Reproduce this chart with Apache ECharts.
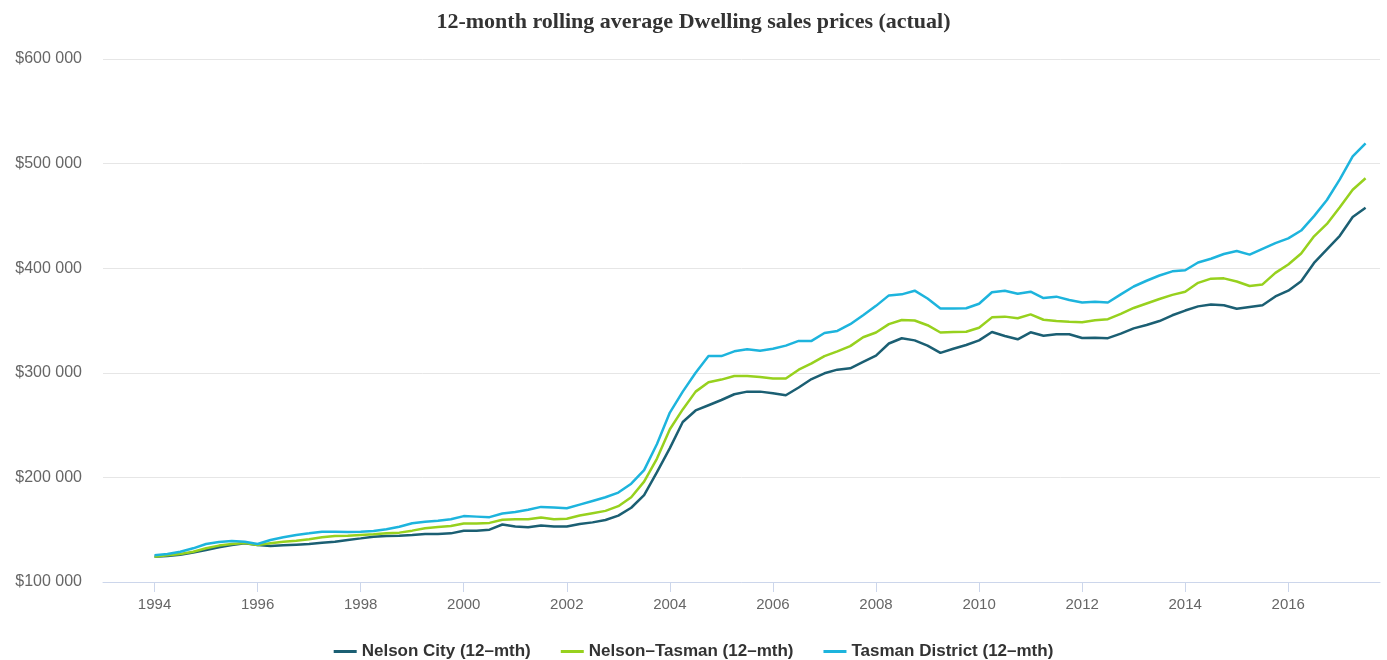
<!DOCTYPE html>
<html>
<head>
<meta charset="utf-8">
<script src="https://cdn.jsdelivr.net/npm/echarts@6/dist/echarts.min.js"></script>
<style>
  html, body { margin: 0; padding: 0; background: #fff; }
  #chart { width: 1387px; height: 660px; }
</style>
</head>
<body>
<div id="chart"></div>
<script>
// quarterly 12-month rolling averages, in $ thousands, 1994 Q1 .. 2017 Q3
var nelsonCity = [
  124.2, 124.8, 126.1, 128.1,
  130.6, 133.2, 135.4, 137,
  135.4, 134.4, 135.1, 135.7,
  136.3, 137.6, 138.5, 140.2,
  141.7, 143.3, 144, 144.3,
  145, 145.9, 145.9, 146.5,
  149, 149, 150, 155,
  153, 152.3, 154, 153,
  153, 155.5, 157, 159.3,
  163.5, 171, 183, 205,
  228, 253, 264, 269,
  274, 279.5, 282, 282,
  280.5, 278.5, 286, 294,
  299.5, 303, 304.3, 310.5,
  316.5, 328, 333, 331,
  326, 319, 323, 326.6,
  331, 339, 335.2, 332,
  338.7, 335.5, 336.8, 336.8,
  333.2, 333.6, 333.1, 337.5,
  342.5, 345.7, 349.5, 355,
  359.5, 363.5, 365.3, 364.5,
  361.3, 363, 364.6, 373,
  378.5, 387.5, 405, 418,
  431, 449, 457.8
];
var nelsonTasman = [
  124.2, 125.5, 126.8, 129,
  132.2, 134.8, 136.3, 137.3,
  135.4, 137, 138.5, 139.5,
  140.8, 142.7, 144, 144.3,
  145, 145.6, 146.6, 147.2,
  149.1, 151.3, 152.5, 153.5,
  156, 156, 156.5, 159.5,
  160, 160, 161.6, 160,
  160.5, 163.5, 165.8, 168,
  172.5, 181, 196, 218,
  246, 265, 282, 291,
  293.5, 297, 297, 296,
  294.5, 294.5, 303, 309,
  316, 320.5, 325.5, 334,
  338.5, 346.5, 350.5, 350,
  345.5, 338.5, 339, 339.3,
  343, 353, 353.7, 352.2,
  355.9, 350.7, 349.5, 348.9,
  348.4, 350.2, 351.3, 356.4,
  362, 366.3, 370.5, 374.5,
  377.5, 386, 390, 390.3,
  387.3, 383, 384.5, 395.5,
  403.5, 414, 430.5, 442.3,
  458.2, 475, 486
];
var tasmanDistrict = [
  125.5, 126.8, 129, 132.2,
  136.3, 138.2, 139.2, 138.5,
  136.3, 140.2, 142.7, 145,
  146.5, 148.1, 148.1, 147.8,
  148.1, 148.8, 150.4, 152.9,
  156.1, 157.6, 158.5, 160,
  163, 162.5, 162, 165.5,
  167, 169, 171.8, 171.3,
  170.5, 174, 177.5, 181,
  185.5, 194, 207, 232,
  262, 282, 300, 316,
  316, 320.5, 322.5, 321,
  323, 326, 330.5, 330.5,
  338, 340, 346.5, 355,
  364, 374, 375, 378.5,
  371, 361.5, 361.5, 361.7,
  366, 377, 378.5, 375.5,
  377.5, 371.5, 372.8, 369.6,
  367.2, 368, 367.2, 375,
  382.5, 388, 393, 397,
  398, 405.5, 409, 413.6,
  416.5, 413, 418.5, 424,
  428.5, 436, 449.8, 465.2,
  485, 507, 519.4
];
var yearTicks = [1994, 1996, 1998, 2000, 2002, 2004, 2006, 2008, 2010, 2012, 2014, 2016];
var seriesNames = ['Nelson City (12–mth)', 'Nelson–Tasman (12–mth)', 'Tasman District (12–mth)'];
var colors = ['#1b5f73', '#97d11e', '#1db4dd'];

function pairs(values) {
  // each value is a quarter, starting 1994 Q1
  return values.map(function (v, i) { return [1994 + i / 4, v]; });
}

var chart = echarts.init(document.getElementById('chart'));
var data = [nelsonCity, nelsonTasman, tasmanDistrict];

chart.setOption({
  animation: false,
  color: colors,
  title: {
    text: '12-month rolling average Dwelling sales prices (actual)',
    left: 'center',
    top: 6,
    textStyle: { fontFamily: 'Liberation Serif', fontWeight: 'bold', fontSize: 22, color: '#333' }
  },
  legend: {
    top: 638,
    left: 'center',
    itemWidth: 23,
    itemHeight: 3,
    itemGap: 30,
    icon: 'rect',
    textStyle: { fontFamily: 'Liberation Sans', fontWeight: 'bold', fontSize: 17, color: '#333' },
    data: seriesNames
  },
  grid: { left: 103, right: 7, top: 59, bottom: 78 },
  xAxis: {
    type: 'value',
    min: 1993,
    max: 2017.78,
    axisLine: { lineStyle: { color: '#ccd6eb', width: 1 } },
    axisTick: { show: true, length: 10, lineStyle: { color: '#ccd6eb' }, customValues: yearTicks },
    axisLabel: {
      customValues: yearTicks,
      color: '#666', fontFamily: 'Liberation Sans', fontSize: 15, margin: 15,
      formatter: function (v) { return String(v); }
    },
    splitLine: { show: false }
  },
  yAxis: {
    type: 'value',
    min: 100,
    max: 600,
    interval: 100,
    axisLine: { show: false },
    axisTick: { show: false },
    axisLabel: {
      color: '#666', fontFamily: 'Liberation Sans', fontSize: 16, margin: 21,
      formatter: function (v) { return '$' + v + ' 000'; }
    },
    splitLine: { lineStyle: { color: '#e6e6e6', width: 1 } }
  },
  series: data.map(function (values, i) {
    return {
      name: seriesNames[i],
      type: 'line',
      data: pairs(values),
      showSymbol: false,
      lineStyle: { width: 2.5, color: colors[i] },
      itemStyle: { color: colors[i] }
    };
  })
});
</script>
</body>
</html>
